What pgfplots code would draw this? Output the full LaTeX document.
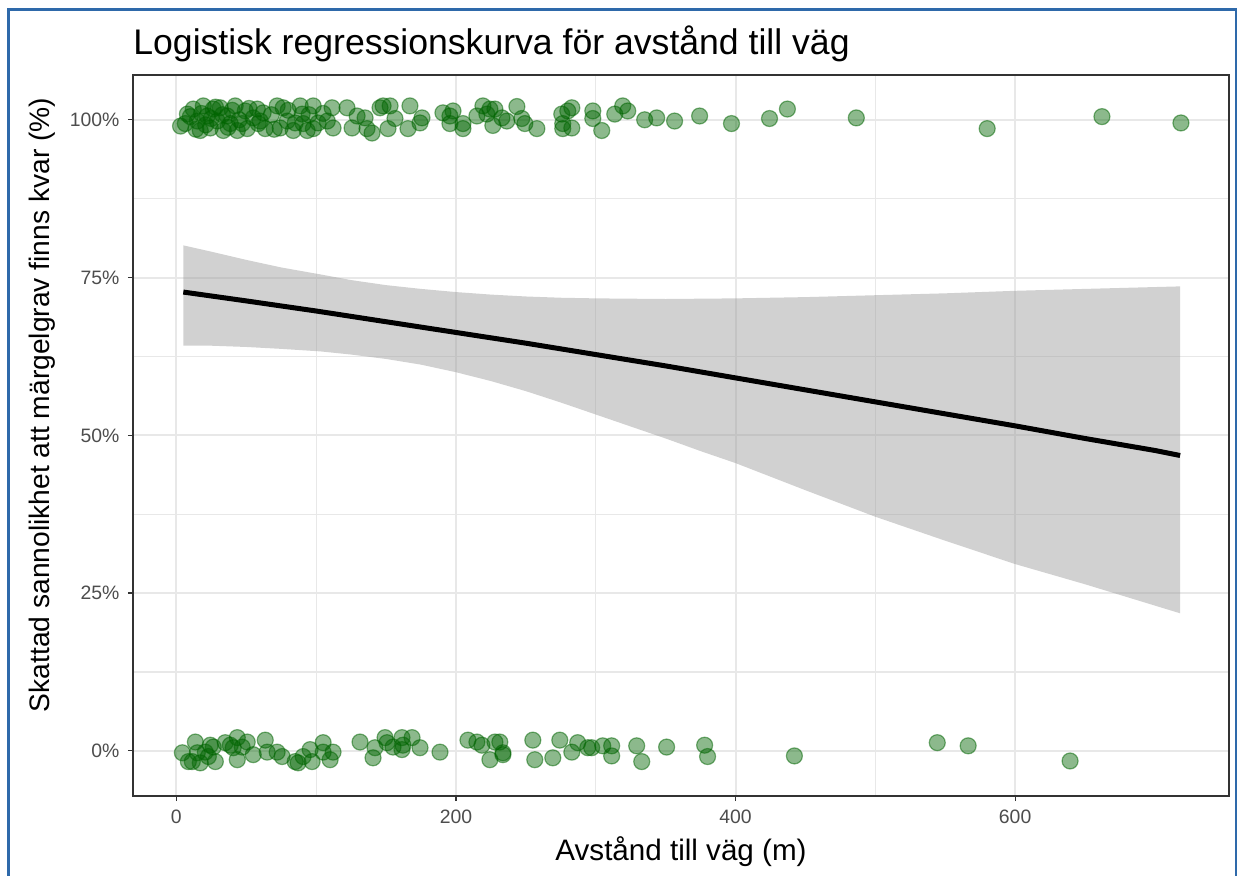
\documentclass[border=0pt]{standalone}
\usepackage{pgfplots}
\pgfplotsset{compat=1.18}
\usepackage{fontspec}
\setmainfont{Liberation Sans}

\definecolor{pt}{RGB}{0,100,0}
\definecolor{band}{RGB}{153,153,153}
\definecolor{gridc}{RGB}{232,232,232}
\definecolor{g20}{RGB}{51,51,51}
\definecolor{g30}{RGB}{77,77,77}
\definecolor{frame}{RGB}{46,105,170}

\begin{document}
\begin{tikzpicture}[x=1bp,y=1bp]
\useasboundingbox (0,0) rectangle (618.5,438);
\draw[frame, line width=1.2bp] (4.25,-5) -- (4.25,433.25) -- (618,433.25) -- (618,-5);

\begin{axis}[
  at={(66.5bp,40bp)}, anchor=south west,
  width=548bp, height=360.5bp, scale only axis,
  xmin=-31, xmax=753, ymin=-7.15, ymax=107.1,
  xtick={0,200,400,600}, ytick={0,25,50,75,100},
  yticklabels={0\%,25\%,50\%,75\%,100\%},
  minor x tick num=1, minor y tick num=1,
  grid=both,
  major grid style={gridc, line width=1bp},
  minor grid style={gridc, line width=0.55bp},
  axis line style={g20, line width=0.6bp},
  tick align=outside, major tick length=2.6bp, minor tick length=0pt,
  tick style={g20, line width=0.6bp},
  xtick pos=bottom, ytick pos=left,
  /pgf/number format/assume math mode=true,
  ticklabel style={font=\fontsize{9.7bp}{11bp}\selectfont, text=g30},
  yticklabel style={anchor=east, inner sep=0pt, xshift=-4bp},
  xticklabel style={anchor=north, inner sep=0pt, yshift=-4bp},
]
% confidence band (upper left->right, lower right->left)
\addplot[fill=band, fill opacity=0.45, draw=none] coordinates {
  (5,80.1) (25,79.1) (50,77.8) (75,76.6) (103,75.5) (125,74.6) (150,73.8) (175,73.2)
  (200,72.7) (225,72.3) (250,72.0) (275,71.8) (300,71.7) (350,71.6) (400,71.7)
  (450,71.9) (500,72.2) (550,72.5) (600,72.9) (650,73.2) (718,73.6)
  (718,21.8) (650,26.4) (600,29.6) (550,33.3) (500,37.1) (450,41.3) (400,45.6)
  (375,47.5) (350,49.5) (325,51.4) (300,53.3) (275,55.2) (250,57.0) (225,58.6)
  (200,60.0) (175,61.2) (150,62.1) (125,62.8) (103,63.3) (75,63.7) (50,64.0)
  (25,64.2) (5,64.2)
} -- cycle;
% fitted curve
\addplot[black, line width=2.5bp] coordinates {
  (5,72.7) (50,71.3) (100,69.7) (150,68.0) (200,66.3) (250,64.6) (300,62.8)
  (350,61.0) (400,59.1) (450,57.2) (500,55.3) (550,53.4) (600,51.5) (650,49.5)
  (700,47.6) (718,46.8)
};
% observations
\addplot[only marks, mark=*, mark size=4bp,
  mark options={draw=pt, fill=pt, fill opacity=0.45, draw opacity=0.5, line width=0.6bp}]
coordinates {
  (7.9,100.9) (6.4,99.4) (12.1,101.7) (15.0,99.8) (17.1,98.3) (19.3,102.2) (22.1,100.6)
  (24.3,98.7) (26.4,101.7) (29.3,99.8) (31.4,101.9) (33.6,98.3) (36.4,100.6) (38.6,99.4)
  (42.1,102.2) (43.6,98.3) (47.1,99.4) (49.3,101.4) (50.7,98.6) (55.0,100.3) (57.9,101.7)
  (58.6,99.4) (62.1,101.1) (63.6,98.6) (72.1,102.2) (74.3,98.7) (76.4,101.9) (79.3,99.8)
  (83.6,98.3) (88.6,102.2) (90.0,100.9) (90.7,99.4) (93.6,98.3) (97.9,102.2) (101.4,99.5)
  (111.4,101.9) (112.1,98.7) (122.1,101.9) (125.7,98.7) (129.3,100.6) (135.0,100.3)
  (136.4,98.6) (140.0,97.9) (145.7,101.9) (147.9,102.2) (152.9,102.2) (151.4,98.6)
  (156.4,100.2) (167.1,102.2) (165.7,98.6) (175.7,100.3) (174.3,99.5) (190.7,101.1)
  (195.7,100.6) (195.7,99.4) (197.9,101.4) (205.0,99.4) (205.0,98.6) (215.0,100.6)
  (219.3,102.2) (222.1,100.9) (224.3,101.7) (227.9,101.7) (226.4,99.1) (232.9,100.3)
  (236.4,99.8) (243.6,102.1) (247.1,100.2) (249.3,99.4) (257.9,98.6) (275.7,100.9)
  (276.4,99.4) (276.4,98.6) (280.0,101.4) (282.9,101.9) (282.9,98.7) (297.9,101.4)
  (297.9,100.2) (304.3,98.3) (313.6,100.9) (319.3,102.2) (322.9,101.4) (335.0,100.0)
  (343.6,100.3) (356.4,99.8) (374.3,100.6) (397.1,99.4) (424.3,100.2) (437.1,101.7)
  (486.4,100.3) (580.0,98.6) (662.1,100.5) (718.6,99.5)
  (3,99.0) (10,100.5) (14,98.5) (18,101.0) (21,99.2) (25,100.2) (28,102.0) (33,100.8)
  (37,98.8) (40,101.5) (45,100.0) (52,101.8) (60,99.8) (68,100.8) (70,98.5) (80,101.5)
  (85,99.5) (95,100.8) (98,98.6) (105,101.0) (108,99.8)
  (4.3,-0.3) (8.6,-1.7) (13.6,1.4) (15.0,-0.3) (11.4,-1.7) (17.1,-1.9) (20.7,-0.2)
  (22.9,-0.9) (24.3,0.9) (27.9,-1.7) (26.4,0.6) (35.0,1.3) (38.6,0.9) (40.7,0.5)
  (43.6,2.1) (43.6,-1.4) (47.1,0.6) (50.7,1.4) (55.0,-0.6) (63.6,1.7) (65.0,-0.2)
  (72.1,-0.2) (75.7,-0.9) (85.0,-1.7) (87.1,-1.9) (90.7,-0.9) (95.7,0.2) (97.1,-1.7)
  (105.0,1.3) (105.0,-0.2) (110.0,-1.4) (112.1,-0.2) (131.4,1.4) (142.1,0.5) (140.7,-1.1)
  (149.3,2.1) (150.7,1.3) (155.0,0.6) (161.4,2.1) (162.1,0.9) (161.4,0.2) (168.6,2.1)
  (174.3,0.5) (188.6,-0.2) (208.6,1.7) (215.0,1.4) (218.6,0.9) (224.3,-1.4) (227.9,1.4)
  (231.4,1.4) (233.6,-0.3) (233.6,-0.6) (255.0,1.7) (256.4,-1.4) (269.3,-1.1) (274.3,1.7)
  (282.9,-0.2) (287.1,1.3) (294.3,0.5) (297.1,0.5) (305.0,0.8) (311.4,0.8) (311.4,-0.8)
  (329.3,0.8) (332.9,-1.7) (350.7,0.6) (377.9,0.9) (380.0,-0.9) (442.1,-0.8) (544.3,1.3)
  (566.4,0.8) (639.3,-1.6)
};
\end{axis}

\node[anchor=base west, inner sep=0pt, font=\fontsize{17.8bp}{20bp}\selectfont] at (66.5,410.5)
  {Logistisk regressionskurva för avstånd till väg};
\node[anchor=base, inner sep=0pt, font=\fontsize{14.8bp}{17bp}\selectfont] at (340.5,7.5)
  {Avstånd till väg (m)};
\node[rotate=90, anchor=base, inner sep=0pt, font=\fontsize{14.1bp}{16bp}\selectfont] at (24.5,235.5)
  {Skattad sannolikhet att märgelgrav finns kvar (\%)};
\end{tikzpicture}
\end{document}
